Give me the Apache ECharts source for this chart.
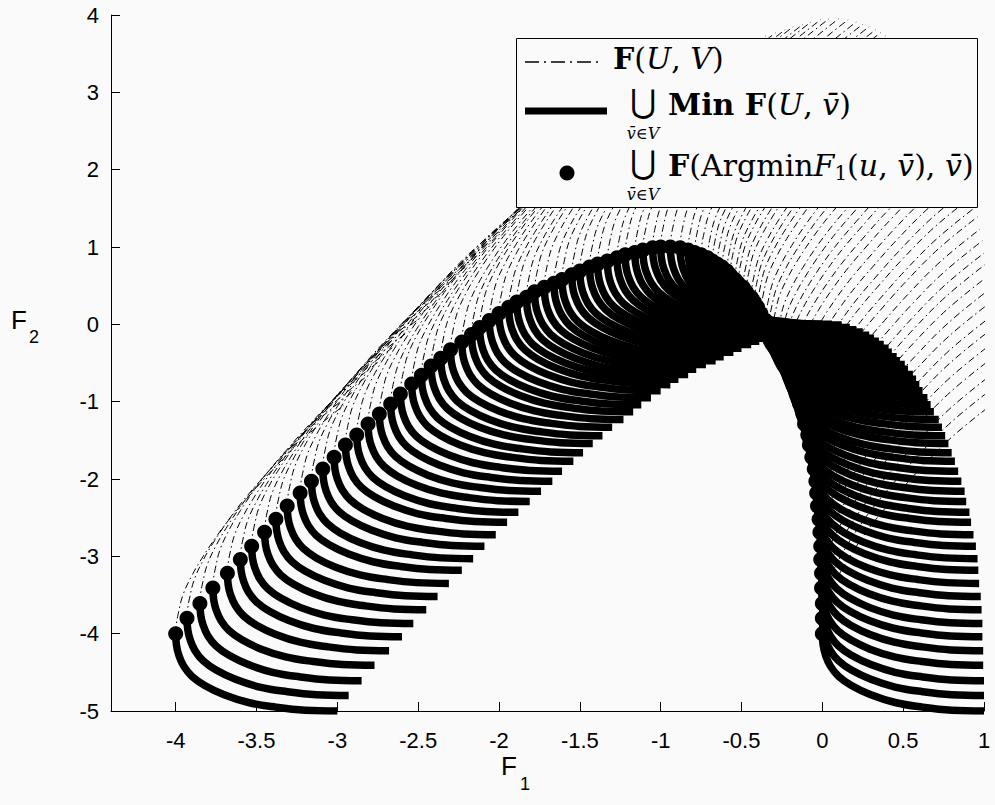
<!DOCTYPE html>
<html>
<head>
<meta charset="utf-8">
<script src="https://cdn.jsdelivr.net/npm/echarts@6/dist/echarts.min.js"></script>
<style>
html, body { margin: 0; padding: 0; background: #fafafa; }
#chart { width: 995px; height: 805px; }
</style>
</head>
<body>
<div id="chart"></div>
<script>
// points F(Argmin F1(u, v), v), one per v (left branch, top, right branch)
var dotX = [-4.00, -3.93, -3.85, -3.77, -3.68, -3.60, -3.53, -3.45, -3.38, -3.31, -3.23, -3.16, -3.09, -3.02, -2.95, -2.88,
	-2.81, -2.74, -2.67, -2.61, -2.54, -2.48, -2.42, -2.36, -2.30, -2.23, -2.17, -2.12, -2.06, -2.00, -1.94, -1.89,
	-1.83, -1.78, -1.72, -1.66, -1.61, -1.55, -1.50, -1.44, -1.39, -1.33, -1.27, -1.22, -1.16, -1.11, -1.05, -1.00,
	-0.94, -0.88, -0.83, -0.79, -0.75, -0.71, -0.68, -0.65, -0.62, -0.59, -0.57, -0.54, -0.52, -0.49, -0.47, -0.44,
	-0.42, -0.40, -0.38, -0.35, -0.33, -0.31, -0.28, -0.26, -0.24, -0.22, -0.20, -0.18, -0.16, -0.14, -0.12, -0.11,
	-0.09, -0.08, -0.065, -0.05, -0.04, -0.035, -0.03, -0.02, -0.015, -0.01, -0.01, -0.005, -0.005, 0, 0, 0];
var dotY = [-4.00, -3.80, -3.61, -3.41, -3.22, -3.04, -2.87, -2.69, -2.52, -2.35, -2.18, -2.03, -1.87, -1.72, -1.56, -1.43,
	-1.29, -1.16, -1.03, -0.90, -0.77, -0.66, -0.54, -0.44, -0.33, -0.23, -0.13, -0.04, 0.05, 0.14, 0.22, 0.29,
	0.35, 0.42, 0.48, 0.53, 0.58, 0.64, 0.69, 0.74, 0.78, 0.82, 0.86, 0.90, 0.93, 0.96, 0.99, 1.00,
	1.00, 0.99, 0.96, 0.93, 0.90, 0.86, 0.82, 0.78, 0.74, 0.69, 0.64, 0.58, 0.53, 0.48, 0.42, 0.35,
	0.29, 0.22, 0.14, 0.05, -0.04, -0.13, -0.23, -0.33, -0.44, -0.54, -0.66, -0.77, -0.90, -1.03, -1.16, -1.29,
	-1.43, -1.56, -1.72, -1.87, -2.03, -2.18, -2.35, -2.52, -2.69, -2.87, -3.04, -3.22, -3.41, -3.61, -3.80, -4.00];

// Min F(U, v): offsets from its dot
var frontDX = [0, 0.005, 0.02, 0.05, 0.1, 0.18, 0.3, 0.45, 0.62, 0.8, 1.0];
var frontDY = [0, -0.15, -0.28, -0.42, -0.55, -0.67, -0.79, -0.89, -0.95, -0.99, -1.0];

// the rest of F(U, v) above its dot, read from the left edge of the hatched band
var upperDX = [0, 0.004, 0.015, 0.045, 0.1, 0.17, 0.25, 0.34, 0.45, 0.6, 0.8, 1.04];
var upperDY = [0, 0.12, 0.25, 0.5, 0.75, 1.0, 1.25, 1.5, 1.77, 2.12, 2.54, 2.95];

var xTicks = [-4, -3.5, -3, -2.5, -2, -1.5, -1, -0.5, 0, 0.5, 1];
var yTicks = [-5, -4, -3, -2, -1, 0, 1, 2, 3, 4];

var myChart = echarts.init(document.getElementById('chart'), null, { renderer: 'svg' });

var series = [];
// F(U, v) for every v, dash-dot
for (var i = 0; i < dotX.length; i++) {
	var up = [];
	for (var j = 0; j < upperDX.length; j++) {
		up.push([dotX[i] + upperDX[j], dotY[i] + upperDY[j]]);
	}
	series.push({
		type: 'line', data: up, smooth: 0.4, symbol: 'none', silent: true, z: 1,
		lineStyle: { color: '#000', width: 1, opacity: 1, type: [7, 3.5, 1.5, 3.5] }
	});
}
// Min F(U, v) for every v, thick
for (var i = 0; i < dotX.length; i++) {
	var fr = [];
	for (var j = 0; j < frontDX.length; j++) {
		fr.push([dotX[i] + frontDX[j], dotY[i] + frontDY[j]]);
	}
	series.push({
		type: 'line', data: fr, smooth: 0.4, symbol: 'none', silent: true, z: 2,
		lineStyle: { color: '#000', width: 7.5, cap: 'butt', opacity: 1 }
	});
}
// the dots
var dots = [];
for (var i = 0; i < dotX.length; i++) dots.push([dotX[i], dotY[i]]);
series.push({
	type: 'scatter', data: dots, symbol: 'circle', symbolSize: 15, silent: true, z: 3,
	itemStyle: { color: '#000', opacity: 1 }
});

var sans = "'Liberation Sans', Arial, sans-serif";
var serif = "'DejaVu Serif', 'Liberation Serif', serif";
var legendRich = {
	n: { fontFamily: serif, fontSize: 30, lineHeight: 36, color: '#000' },
	b: { fontFamily: serif, fontSize: 30, lineHeight: 36, fontWeight: 'bold', color: '#000' },
	i: { fontFamily: serif, fontSize: 30, lineHeight: 36, fontStyle: 'italic', color: '#000' },
	s: { fontFamily: serif, fontSize: 20, lineHeight: 18, verticalAlign: 'bottom', color: '#000' }
};

option = {
	backgroundColor: '#fafafa',
	animation: false,
	grid: { left: 111, right: 11, top: 15, bottom: 94, containLabel: false },
	xAxis: {
		type: 'value', min: -4.4, max: 1,
		axisLine: { onZero: false, lineStyle: { color: '#000', width: 1 } },
		axisTick: { inside: true, length: 9, customValues: xTicks, lineStyle: { color: '#000' } },
		axisLabel: { customValues: xTicks, margin: 18, color: '#000', fontSize: 22, fontFamily: sans },
		splitLine: { show: false }
	},
	yAxis: {
		type: 'value', min: -5, max: 4, interval: 1,
		axisLine: { show: true, onZero: false, lineStyle: { color: '#000', width: 1 } },
		axisTick: { show: true, inside: true, length: 9, lineStyle: { color: '#000' } },
		axisLabel: { margin: 12, color: '#000', fontSize: 22, fontFamily: sans },
		splitLine: { show: false }
	},
	graphic: [
		// axis titles F_1, F_2
		{ type: 'text', left: 501, top: 753, z: 10, style: { text: 'F', fontSize: 26, fontFamily: sans, fill: '#000' } },
		{ type: 'text', left: 520, top: 775, z: 10, style: { text: '1', fontSize: 18, fontFamily: sans, fill: '#000' } },
		{ type: 'text', left: 11, top: 307, z: 10, style: { text: 'F', fontSize: 26, fontFamily: sans, fill: '#000' } },
		{ type: 'text', left: 29, top: 328, z: 10, style: { text: '2', fontSize: 18, fontFamily: sans, fill: '#000' } },
		// legend box
		{ type: 'rect', shape: { x: 516.5, y: 38.5, width: 461, height: 169 }, z: 20,
			style: { fill: '#fafafa', stroke: '#000', lineWidth: 1 } },
		{ type: 'line', shape: { x1: 525, y1: 62, x2: 601, y2: 62 }, z: 21,
			style: { stroke: '#000', lineWidth: 1.3, lineDash: [14, 5, 2, 5] } },
		{ type: 'line', shape: { x1: 525, y1: 111, x2: 607, y2: 111 }, z: 21,
			style: { stroke: '#000', lineWidth: 7 } },
		{ type: 'circle', shape: { cx: 567, cy: 173, r: 7.5 }, z: 21, style: { fill: '#000' } },
		{ type: 'text', x: 613, y: 58, z: 21, style: {
			text: '{b|F}{n|(}{i|U}{n|, }{i|V}{n|)}', rich: legendRich, verticalAlign: 'middle' } },
		{ type: 'text', x: 643, y: 101, z: 21, style: {
			text: '\u22C3', fontSize: 32, fontFamily: serif, fill: '#000', align: 'center', verticalAlign: 'middle' } },
		{ type: 'text', x: 643, y: 133, z: 21, style: {
			text: 'v\u0304\u2208V', fontSize: 16, fontStyle: 'italic', fontFamily: serif, fill: '#000', align: 'center', verticalAlign: 'middle' } },
		{ type: 'text', x: 668, y: 104, z: 21, style: {
			text: '{b|Min F}{n|(}{i|U}{n|, }{i|v\u0304}{n|)}', rich: legendRich, verticalAlign: 'middle' } },
		{ type: 'text', x: 643, y: 162, z: 21, style: {
			text: '\u22C3', fontSize: 32, fontFamily: serif, fill: '#000', align: 'center', verticalAlign: 'middle' } },
		{ type: 'text', x: 643, y: 194, z: 21, style: {
			text: 'v\u0304\u2208V', fontSize: 16, fontStyle: 'italic', fontFamily: serif, fill: '#000', align: 'center', verticalAlign: 'middle' } },
		{ type: 'text', x: 668, y: 165, z: 21, style: {
			text: '{b|F}{n|(Argmin}{i|F}{s|1}{n|(}{i|u}{n|, }{i|v\u0304}{n|), }{i|v\u0304}{n|)}', rich: legendRich, verticalAlign: 'middle' } }
	],
	series: series
};

myChart.setOption(option);
</script>
</body>
</html>
